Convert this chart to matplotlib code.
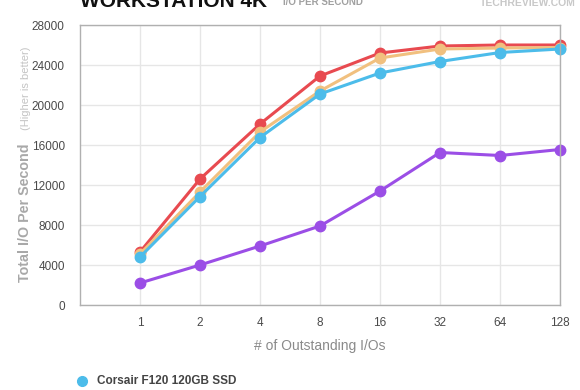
import matplotlib
matplotlib.use('Agg')
import matplotlib.pyplot as plt

plt.rcParams['font.family'] = ['Liberation Sans', 'DejaVu Sans']

queue_depths = ['1', '2', '4', '8', '16', '32', '64', '128']
red_iops = [5300, 12600, 18100, 22900, 25200, 25900, 26000, 26000]
orange_iops = [5100, 11300, 17300, 21400, 24700, 25600, 25700, 25750]
blue_iops = [4800, 10850, 16750, 21100, 23200, 24350, 25250, 25600]
purple_iops = [2200, 4000, 5900, 7900, 11400, 15250, 14950, 15550]
series_colors = ['#e84a50', '#f1c07f', '#4cbcea', '#9b4ee6']
legend_name = 'Corsair F120 120GB SSD'

fig = plt.figure(figsize=(5.8, 3.9), dpi=100)
ax = fig.add_axes([80/580, 85/390, 480/580, 280/390])

x = list(range(1, len(queue_depths) + 1))
for vals, c in zip([red_iops, orange_iops, blue_iops, purple_iops], series_colors):
    ax.plot(x, vals, color=c, lw=2.2, marker='o', ms=7.5, clip_on=False)

ax.set_xlim(0, 8)
ax.set_ylim(0, 28000)
ax.set_xticks(x)
ax.set_xticklabels(queue_depths)
ax.set_yticks(range(0, 28001, 4000))
ax.grid(True, color='#e6e6e6', lw=1)
ax.set_axisbelow(True)
for s in ax.spines.values():
    s.set_color('#b0b0b0')
    s.set_linewidth(1)
ax.tick_params(length=0, labelsize=8.5, labelcolor='#4a4a4a')
ax.tick_params(axis='x', pad=9)
ax.tick_params(axis='y', pad=11)

ax.set_xlabel('# of Outstanding I/Os', fontsize=10, color='#8a8a8a', labelpad=7)

# y label in two parts
fig.text(25/580, 1 - 213/390, 'Total I/O Per Second', rotation=90, fontsize=10.3,
         fontweight='bold', color='#a8a8a8', ha='center', va='center')
fig.text(26/580, 1 - 88/390, '(Higher is better)', rotation=90, fontsize=8,
         color='#c4c4c4', ha='center', va='center')

# title, cut off by the top edge as in the original
fig.text(80/580, 1 - 7/390, 'WORKSTATION 4K', fontsize=15, fontweight='bold',
         color='#111111', ha='left', va='baseline')
fig.text(283/580, 1 - 5/390, 'I/O PER SECOND', fontsize=7, fontweight='bold',
         color='#a0a0a0', ha='left', va='baseline')
fig.text(480/580, 1 - 6/390, 'TECHREVIEW.COM', fontsize=7.5, fontweight='bold',
         color='#c8c8c8', ha='left', va='baseline')

# legend (only first entry visible)
fig.lines.append(plt.Line2D([82/580], [1 - 381/390], marker='o', ms=7,
                            color=series_colors[2], transform=fig.transFigure))
fig.text(97/580, 1 - 381/390, legend_name, fontsize=8.5, fontweight='bold',
         color='#444444', ha='left', va='center')

fig.savefig('out.png', dpi=100)
